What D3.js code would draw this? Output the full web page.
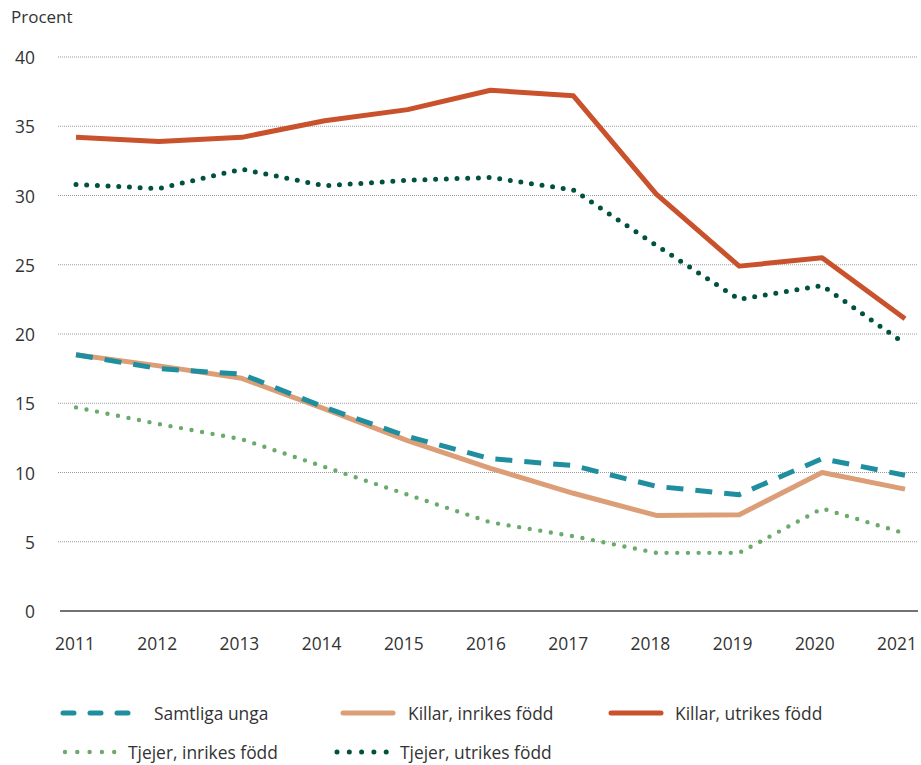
<!DOCTYPE html>
<html><head><meta charset="utf-8">
<script src="https://cdn.jsdelivr.net/npm/d3@7"></script>
<style>body{margin:0;background:#fff}svg{display:block;font-family:"Open Sans","Noto Sans",sans-serif}</style>
</head><body><svg id="c" width="921" height="765"></svg>
<script>
const years = [2011,2012,2013,2014,2015,2016,2017,2018,2019,2020,2021];
const yTicks = [0,5,10,15,20,25,30,35,40];
const samtliga = [18.5,17.5,17.1,14.7,12.6,11.0,10.5,9.0,8.4,11.0,9.8];
const killarInrikes = [18.5,17.7,16.8,14.6,12.3,10.3,8.5,6.9,6.95,10.0,8.8];
const killarUtrikes = [34.2,33.9,34.2,35.4,36.2,37.6,37.2,30.1,24.9,25.5,21.1];
const tjejerInrikes = [14.7,13.5,12.4,10.4,8.4,6.4,5.4,4.2,4.2,7.4,5.6];
const tjejerUtrikes = [30.8,30.5,31.9,30.7,31.1,31.3,30.4,26.4,22.5,23.5,19.3];
const seriesNames = ["Samtliga unga","Killar, inrikes född","Killar, utrikes född","Tjejer, inrikes född","Tjejer, utrikes född"];

const svg = d3.select("#c");
const x = d3.scalePoint().domain(years).range([76,905]);
const xLab = d3.scalePoint().domain(years).range([75,897]);
const y = d3.scaleLinear().domain([0,40]).range([611,57]);
const FS = 17.4;

svg.append("text").attr("x",11).attr("y",23).attr("font-size",17).attr("fill","#333").text("Procent");

// grid
const g = svg.append("g");
yTicks.filter(d=>d>0).forEach(t=>{
  g.append("line").attr("x1",58).attr("x2",918).attr("y1",y(t)).attr("y2",y(t))
   .attr("stroke","#9a9a9a").attr("stroke-width",1).attr("stroke-dasharray","1,1");
});
g.append("line").attr("x1",60).attr("x2",918).attr("y1",y(0)).attr("y2",y(0)).attr("stroke","#444").attr("stroke-width",1.5);
yTicks.forEach(t=>{
  g.append("text").attr("x",35).attr("y",y(t)).attr("text-anchor","end").attr("dominant-baseline","central")
   .attr("font-size",FS).attr("fill","#333").text(t);
});
years.forEach(yr=>{
  g.append("text").attr("x",xLab(yr)).attr("y",643).attr("text-anchor","middle").attr("dominant-baseline","central")
   .attr("font-size",FS).attr("fill","#333").text(yr);
});

const styles = {
  "Samtliga unga": {data:samtliga,color:"#1f8fa0",w:5,dash:"17,12",cap:"butt"},
  "Killar, inrikes född": {data:killarInrikes,color:"#dc9e77",w:5,dash:null,cap:"butt"},
  "Killar, utrikes född": {data:killarUtrikes,color:"#c9522c",w:5,dash:null,cap:"butt"},
  "Tjejer, inrikes född": {data:tjejerInrikes,color:"#6aaa6b",w:4.4,dash:"0,10.7",cap:"round"},
  "Tjejer, utrikes född": {data:tjejerUtrikes,color:"#00513f",w:5,dash:"0,10.7",cap:"round"}
};
const line = d3.line().x((d,i)=>x(years[i])).y(d=>y(d));
["Tjejer, inrikes född","Tjejer, utrikes född","Killar, inrikes född","Killar, utrikes född","Samtliga unga"].forEach(n=>{
  const s = styles[n];
  const p = svg.append("path").attr("d",line(s.data)).attr("fill","none").attr("stroke",s.color)
    .attr("stroke-width",s.w).attr("stroke-linecap",s.cap).attr("stroke-linejoin","round");
  if(s.dash) p.attr("stroke-dasharray",s.dash);
});

// legend
const leg = [
  {n:seriesNames[0],x1:63,x2:140,tx:154,ly:713},
  {n:seriesNames[1],x1:343,x2:393,tx:408,ly:713},
  {n:seriesNames[2],x1:611,x2:661,tx:675,ly:713},
  {n:seriesNames[3],x1:65,x2:116,tx:128,ly:752},
  {n:seriesNames[4],x1:337,x2:388,tx:400,ly:752}
];
leg.forEach(l=>{
  const s = styles[l.n];
  const p = svg.append("line").attr("x1",l.x1).attr("x2",l.x2).attr("y1",l.ly).attr("y2",l.ly)
    .attr("stroke",s.color).attr("stroke-width",s.w).attr("stroke-linecap","round");
  if(l.n==="Samtliga unga") p.attr("stroke-dasharray","11,16").attr("stroke-linecap","round");
  else if(s.dash) p.attr("stroke-dasharray","0,12.3");
  svg.append("text").attr("x",l.tx).attr("y",l.ly).attr("dominant-baseline","central")
    .attr("font-size",FS).attr("fill","#333").text(l.n);
});
</script></body></html>
